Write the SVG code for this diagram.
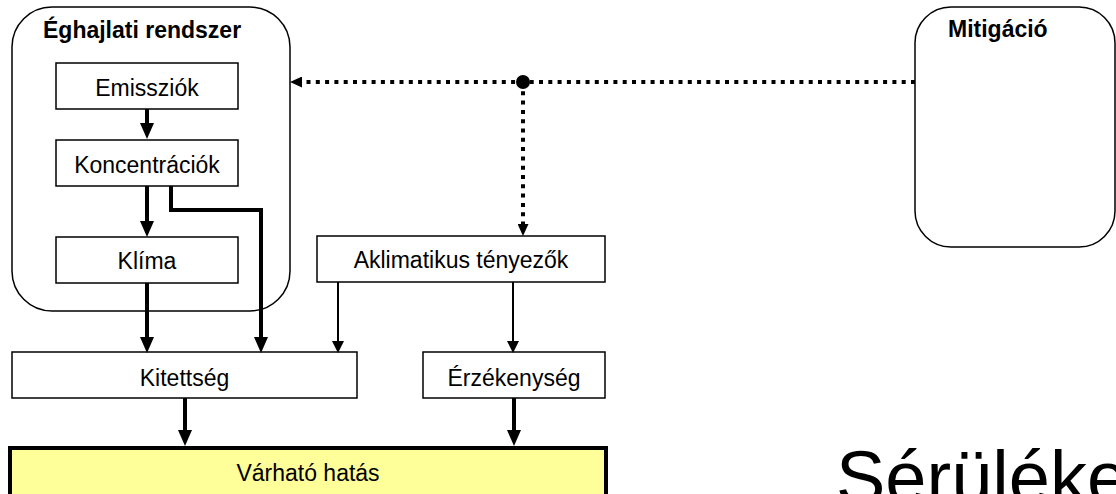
<svg xmlns="http://www.w3.org/2000/svg" width="1116" height="494" viewBox="0 0 1116 494">
<style>
  text { font-family: "Liberation Sans", Arial, sans-serif; fill: #000; }
  .lbl { font-size: 23px; text-anchor: middle; }
  .ttl { font-size: 23px; font-weight: bold; }
  .box { fill: #fff; stroke: #000; stroke-width: 1.5; }
  .grp { fill: #fff; stroke: #000; stroke-width: 1.5; }
  .thick { fill: none; stroke: #000; stroke-width: 4; }
  .thin { fill: none; stroke: #000; stroke-width: 2; }
  .dot { fill: none; stroke: #000; stroke-width: 4; stroke-dasharray: 4 5.3; }
</style>
<defs>
  <marker id="ah" viewBox="0 0 16 14" refX="0" refY="7" markerWidth="16" markerHeight="14" orient="auto" markerUnits="userSpaceOnUse">
    <path d="M0,0 L16,7 L0,14 z" fill="#000"/>
  </marker>
  <marker id="as" viewBox="0 0 12 12" refX="0" refY="6" markerWidth="12" markerHeight="12" orient="auto" markerUnits="userSpaceOnUse">
    <path d="M0,0 L12,6 L0,12 z" fill="#000"/>
  </marker>
  <marker id="ad" viewBox="0 0 12 11" refX="0" refY="5.5" markerWidth="12" markerHeight="11" orient="auto" markerUnits="userSpaceOnUse">
    <path d="M0,0 L12,5.5 L0,11 z" fill="#000"/>
  </marker>
</defs>
<rect width="1116" height="494" fill="#fff"/>

<g id="eghajlati">
  <rect class="grp" x="12" y="7" width="278" height="304" rx="40" ry="40"/>
  <text class="ttl" x="43" y="38">Éghajlati rendszer</text>
</g>
<g id="mitigacio">
  <rect class="grp" x="915" y="7" width="200" height="240" rx="36" ry="36"/>
  <text class="ttl" x="948" y="37">Mitigáció</text>
</g>
<g id="emissziok">
  <rect class="box" x="56" y="63" width="182" height="46"/>
  <text class="lbl" x="147" y="96">Emissziók</text>
</g>
<g id="koncentraciok">
  <rect class="box" x="56" y="140" width="182" height="46"/>
  <text class="lbl" x="147" y="173">Koncentrációk</text>
</g>
<g id="klima">
  <rect class="box" x="56" y="237" width="182" height="46"/>
  <text class="lbl" x="147" y="269">Klíma</text>
</g>
<g id="aklimatikus">
  <rect class="box" x="317" y="236" width="288" height="46"/>
  <text class="lbl" x="461" y="268">Aklimatikus tényezők</text>
</g>
<g id="kitettseg">
  <rect class="box" x="12" y="352" width="345" height="46"/>
  <text class="lbl" x="184.5" y="386">Kitettség</text>
</g>
<g id="erzekenyseg">
  <rect class="box" x="423" y="352" width="182" height="46"/>
  <text class="lbl" x="514" y="386">Érzékenység</text>
</g>
<g id="varhato">
  <rect x="10" y="448" width="596" height="70" fill="#FFFF99" stroke="#000" stroke-width="4"/>
  <text class="lbl" x="308" y="481">Várható hatás</text>
</g>
<g id="serulekenyseg">
  <text x="836" y="503" font-size="74">Sérülékenység</text>
</g>

<g id="connectors">
  <path class="thick" d="M147,109 V123" marker-end="url(#ah)"/>
  <path class="thick" d="M147,186 V221" marker-end="url(#ah)"/>
  <path class="thick" d="M171,186 V210 H261 V337" marker-end="url(#ah)"/>
  <path class="thick" d="M147,283 V337" marker-end="url(#ah)"/>
  <path class="thin" d="M338,282 V341" marker-end="url(#as)"/>
  <path class="thin" d="M513,282 V341" marker-end="url(#as)"/>
  <path class="thick" d="M185,398 V430" marker-end="url(#ah)"/>
  <path class="thick" d="M514,398 V430" marker-end="url(#ah)"/>
  <path class="dot" d="M915,82 H302" marker-end="url(#ad)"/>
  <path class="dot" d="M523,82 V224" marker-end="url(#ad)"/>
  <circle cx="523" cy="82" r="7" fill="#000"/>
</g>
</svg>
